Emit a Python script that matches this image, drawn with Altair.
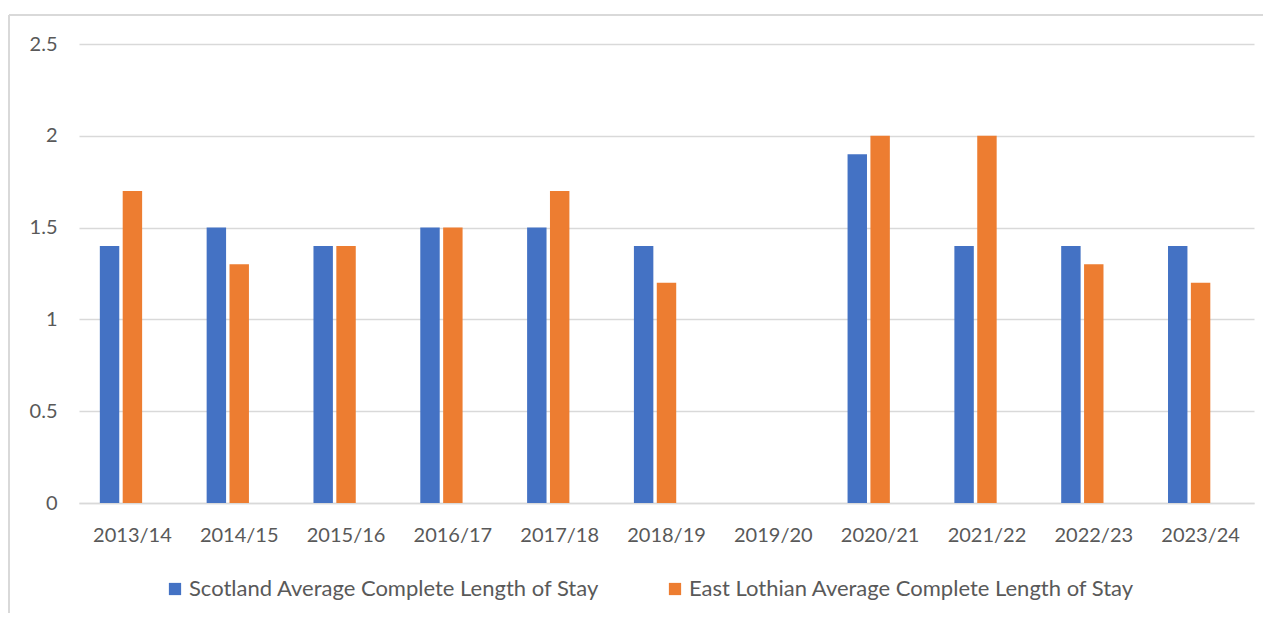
import altair as alt
import pandas as pd

years = ["2013/14", "2014/15", "2015/16", "2016/17", "2017/18", "2018/19",
         "2019/20", "2020/21", "2021/22", "2022/23", "2023/24"]
scotland = [1.4, 1.5, 1.4, 1.5, 1.5, 1.4, None, 1.9, 1.4, 1.4, 1.4]
east_lothian = [1.7, 1.3, 1.4, 1.5, 1.7, 1.2, None, 2.0, 2.0, 1.3, 1.2]
series = ["Scotland Average Complete Length of Stay",
          "East Lothian Average Complete Length of Stay"]
colors = ["#4472C4", "#ED7D31"]

rows = []
for y, a, b in zip(years, scotland, east_lothian):
    if a is not None:
        rows.append({"year": y, "series": series[0], "value": a})
    if b is not None:
        rows.append({"year": y, "series": series[1], "value": b})
df = pd.DataFrame(rows)

FONT = "Lato"
GREY = "#595959"
FS = 20

bars = alt.Chart(df).mark_bar().encode(
    x=alt.X("year:N", sort=years,
            scale=alt.Scale(domain=years, paddingInner=0.39, paddingOuter=0.195),
            axis=alt.Axis(title=None, labelAngle=0, labelFont=FONT, labelFontSize=FS,
                          labelColor=GREY, labelPadding=22, ticks=False,
                          domainColor="#D9D9D9", domainWidth=1.5)),
    xOffset=alt.XOffset("series:N",
                        scale=alt.Scale(domain=series + ["_blank"], paddingInner=0.15)),
    y=alt.Y("value:Q",
            scale=alt.Scale(domain=[0, 2.5]),
            axis=alt.Axis(title=None, values=[0, 0.5, 1, 1.5, 2, 2.5], format="~g",
                          labelFont=FONT, labelFontSize=FS, labelColor=GREY,
                          labelPadding=22, ticks=False, domain=False,
                          gridColor="#D9D9D9", gridWidth=1.5)),
    color=alt.Color("series:N",
                    scale=alt.Scale(domain=series, range=colors),
                    legend=alt.Legend(title=None, orient="none", direction="horizontal",
                                      legendX=85, legendY=75 + 459,
                                      symbolType="square", symbolSize=150,
                                      symbolStrokeWidth=0, symbolOffset=0,
                                      labelOffset=3,
                                      labelFont=FONT, labelFontSize=22,
                                      labelColor=GREY, columnPadding=64,
                                      labelLimit=700)),
)

border_left = alt.Chart(df).mark_rule(color="#D9D9D9", strokeWidth=2).encode(
    x=alt.value(-70), y=alt.value(-29), y2=alt.value(600))
border_top = alt.Chart(df).mark_rule(color="#D9D9D9", strokeWidth=2).encode(
    x=alt.value(-70), x2=alt.value(1200), y=alt.value(-29))

chart = alt.layer(bars, border_left, border_top).properties(
    width=1175, height=459,
    autosize=alt.AutoSizeParams(type="none"),
    padding={"left": 71, "top": 36, "right": 9, "bottom": 110},
).configure(background="white").configure_view(stroke=None, strokeWidth=0)

chart.save("out.html", embed_options={"renderer": "svg", "actions": False})
